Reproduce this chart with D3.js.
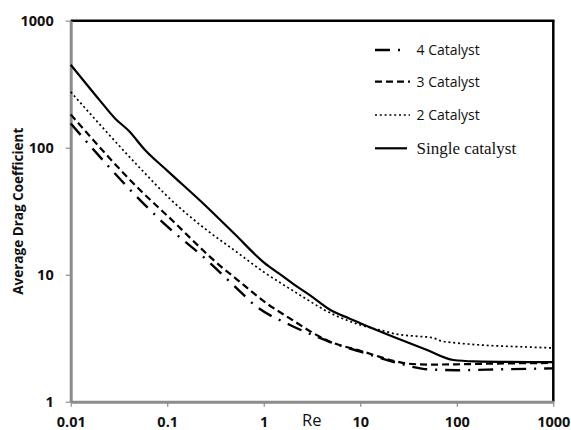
<!DOCTYPE html>
<html>
<head>
<meta charset="utf-8">
<script src="https://cdn.jsdelivr.net/npm/d3@7/dist/d3.min.js"></script>
<style>
  html, body { margin: 0; padding: 0; background: #fff; }
  svg { display: block; }
</style>
</head>
<body>
<svg id="chart" width="571" height="430"></svg>
<script>
// Average drag coefficient vs Reynolds number, one curve per catalyst arrangement.
// Each series is a list of [Re, Cd] pairs.
const single = [[0.01,450],[0.02,236],[0.0288,170],[0.0395,137],[0.0589,96],[0.1,66],[0.256,34.3],[0.5,20.9],[1,12.5],[1.6,9.64],[2,8.5],[3,6.9],[4.86,5.3],[7.8,4.5],[10,4.15],[24,3.16],[50,2.54],[92,2.13],[150,2.08],[1000,2.05]];
const twoCat = [[0.01,275],[0.0545,66.8],[0.1,41.5],[0.256,22.5],[0.5,15.5],[1,10.5],[2,7.5],[5.3,4.85],[10,4.02],[16,3.67],[24,3.4],[40,3.27],[55,3.2],[70,3.0],[100,2.9],[200,2.78],[500,2.7],[1000,2.65]];
const threeCat = [[0.01,183],[0.0545,45],[0.1,29.2],[0.381,11.2],[0.5,9.5],[1.07,5.95],[2,4.38],[3.27,3.46],[4.86,2.97],[10,2.52],[24,2.07],[30,2.0],[50,1.96],[100,1.97],[300,2.0],[1000,2.02]];
const fourCat = [[0.01,155],[0.0565,36.5],[0.1,24],[0.256,13.1],[0.5,8.1],[0.845,5.6],[1.87,4.02],[3.54,3.25],[4.86,2.95],[10,2.48],[24,2.02],[35,1.88],[50,1.8],[100,1.77],[300,1.8],[1000,1.83]];

const xTicks = [0.01, 0.1, 1, 10, 100, 1000];
const yTicks = [1, 10, 100, 1000];
const seriesNames = ["4 Catalyst", "3 Catalyst", "2 Catalyst", "Single catalyst"];

const svg = d3.select("#chart");
const plotLeft = 70.7, plotRight = 553.3, plotTop = 20.7, plotBottom = 401.7;

const x = d3.scaleLog().domain([0.01, 1000]).range([plotLeft, plotRight]);
const y = d3.scaleLog().domain([1, 1000]).range([plotBottom, plotTop]);

const axisGray = "#8c8c8c";
const sansBold = "'Open Sans', 'Liberation Sans', sans-serif";

// plot frame: black top and right edges
svg.append("line").attr("x1", plotLeft).attr("x2", plotRight + 1.2).attr("y1", plotTop).attr("y2", plotTop)
  .attr("stroke", "#000").attr("stroke-width", 2.5);
svg.append("line").attr("x1", plotRight).attr("x2", plotRight).attr("y1", plotTop).attr("y2", plotBottom)
  .attr("stroke", "#000").attr("stroke-width", 2.5);

// x axis
const gx = svg.append("g").attr("transform", `translate(0,${plotBottom})`)
  .call(d3.axisBottom(x).tickValues(xTicks).tickFormat(d3.format("~g")).tickSizeInner(5).tickSizeOuter(0).tickPadding(10));
gx.select(".domain").attr("stroke", axisGray).attr("stroke-width", 3);
gx.selectAll(".tick line").attr("stroke", axisGray).attr("stroke-width", 1.2);
gx.selectAll(".tick text").attr("fill", "#111").style("font-family", sansBold)
  .style("font-weight", "700").style("font-size", "14.5px");

// y axis
const gy = svg.append("g").attr("transform", `translate(${plotLeft},0)`)
  .call(d3.axisLeft(y).tickValues(yTicks).tickFormat(d3.format("~g")).tickSizeInner(5).tickSizeOuter(0).tickPadding(12));
gy.select(".domain").attr("stroke", axisGray).attr("stroke-width", 3);
gy.selectAll(".tick line").attr("stroke", axisGray).attr("stroke-width", 1.2);
gy.selectAll(".tick text").attr("fill", "#111").style("font-family", sansBold)
  .style("font-weight", "700").style("font-size", "14.5px");

// axis titles
svg.append("text").attr("x", 311.7).attr("y", 425.5).attr("text-anchor", "middle")
  .style("font-family", "'Open Sans', sans-serif").style("font-size", "16.5px").attr("fill", "#111")
  .text("Re");
svg.append("text").attr("transform", `translate(23,${(plotTop + plotBottom) / 2}) rotate(-90)`)
  .attr("text-anchor", "middle").style("font-family", sansBold).style("font-weight", "700")
  .style("font-size", "13.5px").attr("fill", "#111").text("Average Drag Coefficient");

// curves
const line = d3.line().x(d => x(d[0])).y(d => y(d[1])).curve(d3.curveMonotoneX);
const styles = [
  { data: fourCat, dash: "15,8,2,8", width: 2.4 },
  { data: threeCat, dash: "7,4", width: 2.2 },
  { data: twoCat, dash: "2,2.8", width: 1.7 },
  { data: single, dash: null, width: 2.2 }
];
const plot = svg.append("g");
styles.forEach(s => {
  plot.append("path").datum(s.data).attr("d", line)
    .attr("fill", "none").attr("stroke", "#000").attr("stroke-width", s.width)
    .attr("stroke-dasharray", s.dash);
});

// legend
const legendY = [50, 81.7, 115, 148.3];
const legend = svg.append("g");
styles.forEach((s, i) => {
  const row = legend.append("g").attr("transform", `translate(0,${legendY[i]})`);
  const sampleEnd = i === 0 ? 403 : (i === 3 ? 407 : 410);
  row.append("line").attr("x1", 375).attr("x2", sampleEnd).attr("y1", 0).attr("y2", 0)
    .attr("stroke", "#000").attr("stroke-width", s.width).attr("stroke-dasharray", s.dash);
  const t = row.append("text").attr("x", 416.5).attr("dy", "0.35em").attr("fill", "#111")
    .text(seriesNames[i]);
  if (i === 3) {
    t.style("font-family", "'Liberation Serif', 'Times New Roman', serif").style("font-size", "17px");
  } else {
    t.style("font-family", "'Open Sans', sans-serif").style("font-size", "14px");
  }
});
</script>
</body>
</html>
